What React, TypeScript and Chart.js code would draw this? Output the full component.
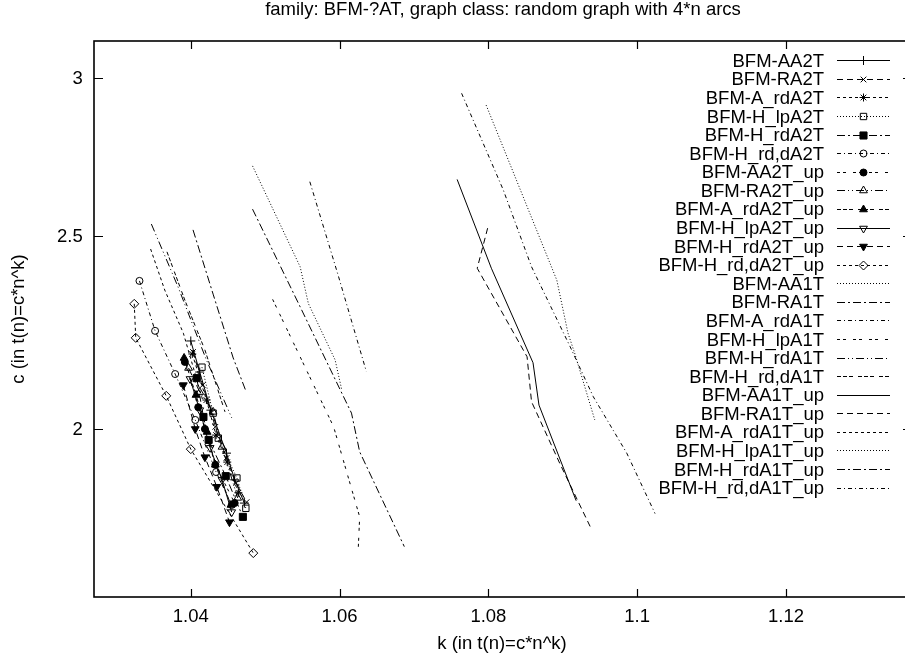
import React, { useEffect, useRef } from "react";
import { Chart, registerables } from "chart.js";
import { drawPoint } from "chart.js/helpers";

Chart.register(...registerables);

const TITLE = "family: BFM-?AT, graph class: random graph with 4*n arcs";
const X_TITLE = "k (in t(n)=c*n^k)";
const Y_TITLE = "c (in t(n)=c*n^k)";

const xTicks = [1.04, 1.06, 1.08, 1.1, 1.12];
const xTickLabels = ["1.04", "1.06", "1.08", "1.1", "1.12"];
const yTicks = [2, 2.5, 3];
const yTickLabels = ["2", "2.5", "3"];
const kRange = [1.02699, 1.13694];
const cRange = [1.6473, 3.1305];

const labels = [
  "BFM-AA2T", "BFM-RA2T", "BFM-A_rdA2T", "BFM-H_lpA2T", "BFM-H_rdA2T", "BFM-H_rd,dA2T",
  "BFM-AA2T_up", "BFM-RA2T_up", "BFM-A_rdA2T_up", "BFM-H_lpA2T_up", "BFM-H_rdA2T_up", "BFM-H_rd,dA2T_up",
  "BFM-AA1T", "BFM-RA1T", "BFM-A_rdA1T", "BFM-H_lpA1T", "BFM-H_rdA1T", "BFM-H_rd,dA1T",
  "BFM-AA1T_up", "BFM-RA1T_up", "BFM-A_rdA1T_up", "BFM-H_lpA1T_up", "BFM-H_rdA1T_up", "BFM-H_rd,dA1T_up",
];

const k_AA2T = [1.0400, 1.0412, 1.0427, 1.0448, 1.0459, 1.0472];
const c_AA2T = [2.214, 2.136, 2.044, 1.945, 1.886, 1.836];
const k_RA2T = [1.0403, 1.0416, 1.0433, 1.0448, 1.0461, 1.0475];
const c_RA2T = [2.186, 2.104, 2.005, 1.934, 1.879, 1.838];
const k_A_rdA2T = [1.0402, 1.0421, 1.0434, 1.0449, 1.0464];
const c_A_rdA2T = [2.181, 2.068, 1.986, 1.925, 1.858];
const k_H_lpA2T = [1.0415, 1.0430, 1.0437, 1.0462, 1.0474];
const c_H_lpA2T = [2.148, 2.037, 1.979, 1.890, 1.825];
const k_H_rdA2T = [1.0408, 1.0417, 1.0424, 1.0447, 1.0470];
const c_H_rdA2T = [2.121, 2.028, 1.975, 1.894, 1.807];
const k_H_rddA2T = [1.0331, 1.0352, 1.0379, 1.0406, 1.0434, 1.0455];
const c_H_rddA2T = [2.373, 2.240, 2.131, 2.021, 1.903, 1.832];
const k_AA2T_up = [1.0392, 1.0410, 1.0419, 1.0433, 1.0459];
const c_AA2T_up = [2.161, 2.051, 2.000, 1.919, 1.836];
const k_RA2T_up = [1.0397, 1.0412, 1.0430, 1.0442, 1.0463];
const c_RA2T_up = [2.146, 2.087, 2.040, 1.959, 1.847];
const k_A_rdA2T_up = [1.0391, 1.0407, 1.0422, 1.0433, 1.0454];
const c_A_rdA2T_up = [2.171, 2.080, 1.993, 1.919, 1.832];
const k_H_lpA2T_up = [1.0399, 1.0412, 1.0426, 1.0442, 1.0455];
const c_H_lpA2T_up = [2.119, 2.044, 1.957, 1.886, 1.817];
const k_H_rdA2T_up = [1.0390, 1.0406, 1.0419, 1.0435, 1.0452];
const c_H_rdA2T_up = [2.104, 2.000, 1.936, 1.871, 1.796];
const k_H_rddA2T_up = [1.0324, 1.0326, 1.0367, 1.0400, 1.0484];
const c_H_rddA2T_up = [2.311, 2.222, 2.078, 1.954, 1.733];

const k_AA1T = [1.0483, 1.0547, 1.0558, 1.0594, 1.0603];
const c_AA1T = [2.710, 2.412, 2.312, 2.166, 2.092];
const k_RA1T = [1.0483, 1.0547, 1.0601, 1.0616, 1.0627, 1.0687];
const c_RA1T = [2.578, 2.303, 2.092, 2.037, 1.948, 1.746];
const k_A_rdA1T = [1.0560, 1.0598, 1.0636];
const c_A_rdA1T = [2.661, 2.389, 2.137];
const k_H_lpA1T = [1.0510, 1.0592, 1.0627, 1.0625];
const c_H_lpA1T = [2.323, 2.005, 1.807, 1.739];
const k_H_rdA1T = [1.0347, 1.0383, 1.0421, 1.0455];
const c_H_rdA1T = [2.534, 2.356, 2.166, 2.026];
const k_H_rddA1T = [1.0368, 1.0392, 1.0419, 1.0446];
const c_H_rddA1T = [2.454, 2.321, 2.191, 2.040];
const k_AA1T_up = [1.0758, 1.0804, 1.0860, 1.0868, 1.0918];
const c_AA1T_up = [2.668, 2.408, 2.159, 2.056, 1.841];
const k_RA1T_up = [1.0799, 1.0785, 1.0852, 1.0858, 1.0896, 1.0939];
const c_RA1T_up = [2.522, 2.408, 2.174, 2.064, 1.922, 1.780];
const k_A_rdA1T_up = [1.0346, 1.0365, 1.0390, 1.0416];
const c_A_rdA1T_up = [2.462, 2.348, 2.234, 2.068];
const k_H_lpA1T_up = [1.0797, 1.0843, 1.0892, 1.0907, 1.0916, 1.0943];
const c_H_lpA1T_up = [2.907, 2.636, 2.375, 2.234, 2.183, 2.021];
const k_H_rdA1T_up = [1.0403, 1.0430, 1.0457, 1.0474];
const c_H_rdA1T_up = [2.517, 2.337, 2.171, 2.090];
const k_H_rddA1T_up = [1.0764, 1.0820, 1.0858, 1.0910, 1.0941, 1.0986, 1.1024];
const c_H_rddA1T_up = [2.947, 2.636, 2.412, 2.199, 2.076, 1.945, 1.814];

const seriesK = [
  k_AA2T, k_RA2T, k_A_rdA2T, k_H_lpA2T, k_H_rdA2T, k_H_rddA2T,
  k_AA2T_up, k_RA2T_up, k_A_rdA2T_up, k_H_lpA2T_up, k_H_rdA2T_up, k_H_rddA2T_up,
  k_AA1T, k_RA1T, k_A_rdA1T, k_H_lpA1T, k_H_rdA1T, k_H_rddA1T,
  k_AA1T_up, k_RA1T_up, k_A_rdA1T_up, k_H_lpA1T_up, k_H_rdA1T_up, k_H_rddA1T_up,
];
const seriesC = [
  c_AA2T, c_RA2T, c_A_rdA2T, c_H_lpA2T, c_H_rdA2T, c_H_rddA2T,
  c_AA2T_up, c_RA2T_up, c_A_rdA2T_up, c_H_lpA2T_up, c_H_rdA2T_up, c_H_rddA2T_up,
  c_AA1T, c_RA1T, c_A_rdA1T, c_H_lpA1T, c_H_rdA1T, c_H_rddA1T,
  c_AA1T_up, c_RA1T_up, c_A_rdA1T_up, c_H_lpA1T_up, c_H_rdA1T_up, c_H_rddA1T_up,
];

const DASHES = [[], [6, 4], [3, 3], [1, 2], [8, 3, 2, 3], [4, 3, 1, 3], [3, 3, 3, 7], [8, 3, 1, 3, 1, 3], [4, 2, 4, 2, 4, 5]];
const POINT_STYLES = ["cross", "crossRot", "star", "rect", "rect", "circle", "circle", "triangle", "triangle", "triangle", "triangle", "rectRot"];
const POINT_FILLED = [false, false, false, false, true, false, true, false, true, false, true, false];
const POINT_ROT = [0, 0, 0, 0, 0, 0, 0, 0, 0, 180, 180, 0];
const POINT_RADIUS = [4.5, 4, 4, 4.5, 5, 3.5, 3.5, 4.5, 4.5, 4.5, 4.5, 4.5];

const FONT = '18.5px "Liberation Sans", Arial, sans-serif';
const CANVAS_W = 912;
const CANVAS_H = 657;

const gnuplotDecor = {
  id: "gnuplotDecor",
  afterDraw(chart: any) {
    const { ctx, chartArea: a, scales } = chart;
    const xs = scales.x;
    const ys = scales.y;
    ctx.save();
    ctx.strokeStyle = "#000";
    ctx.fillStyle = "#000";
    ctx.setLineDash([]);
    ctx.lineWidth = 1.6;
    ctx.strokeRect(a.left, a.top, a.right - a.left, a.bottom - a.top);
    ctx.lineWidth = 1.2;
    ctx.beginPath();
    xTicks.forEach((v) => {
      const px = Math.round(xs.getPixelForValue(v)) + 0.5;
      ctx.moveTo(px, a.bottom);
      ctx.lineTo(px, a.bottom - 8);
      ctx.moveTo(px, a.top);
      ctx.lineTo(px, a.top + 8);
    });
    yTicks.forEach((v) => {
      const py = Math.round(ys.getPixelForValue(v)) + 0.5;
      ctx.moveTo(a.left, py);
      ctx.lineTo(a.left + 9, py);
      ctx.moveTo(a.right, py);
      ctx.lineTo(a.right - 9, py);
    });
    ctx.stroke();
    ctx.font = FONT;
    ctx.textBaseline = "alphabetic";
    ctx.textAlign = "center";
    xTicks.forEach((v, i) => ctx.fillText(xTickLabels[i], xs.getPixelForValue(v), a.bottom + 24.7));
    ctx.textAlign = "right";
    yTicks.forEach((v, i) => ctx.fillText(yTickLabels[i], a.left - 11.3, ys.getPixelForValue(v) + 6.5));
    const cx = (a.left + a.right) / 2;
    ctx.textAlign = "center";
    ctx.fillText(TITLE, cx, 15);
    ctx.fillText(X_TITLE, cx - 1, a.bottom + 52);
    ctx.save();
    ctx.translate(23.5, (a.top + a.bottom) / 2);
    ctx.rotate(-Math.PI / 2);
    ctx.fillText(Y_TITLE, 0, 0);
    ctx.restore();
    const rowTop = a.top + 19.3;
    const rowStep = 18.58;
    chart.data.datasets.forEach((ds: any, i: number) => {
      const yc = rowTop + i * rowStep;
      const yl = Math.round(yc) + 0.5;
      ctx.fillStyle = "#000";
      ctx.textAlign = "right";
      ctx.fillText(ds.label, a.right - 88, yc + 6.5);
      ctx.lineWidth = 1;
      ctx.setLineDash(ds.borderDash || []);
      ctx.beginPath();
      ctx.moveTo(a.right - 75, yl);
      ctx.lineTo(a.right - 22, yl);
      ctx.stroke();
      ctx.setLineDash([]);
      if (ds.pointRadius > 0) {
        ctx.fillStyle = ds.pointBackgroundColor;
        ctx.strokeStyle = "#000";
        drawPoint(ctx, { pointStyle: ds.pointStyle, rotation: ds.pointRotation, radius: ds.pointRadius, borderWidth: 1 } as any, a.right - 48.5, yl);
      }
    });
    ctx.restore();
  },
};

export default function App() {
  const ref = useRef<HTMLCanvasElement>(null);
  useEffect(() => {
    document.documentElement.style.overflow = "hidden";
    document.body.style.margin = "0";
    document.body.style.overflow = "hidden";
    const datasets = labels.map((label, i) => {
      const marked = i < 12;
      return {
        label,
        data: seriesK[i].map((k, j) => ({ x: k, y: seriesC[i][j] })),
        borderColor: "#000",
        borderWidth: 1,
        borderDash: DASHES[i % 9],
        tension: 0,
        fill: false,
        pointStyle: marked ? POINT_STYLES[i] : "circle",
        pointRadius: marked ? POINT_RADIUS[i] : 0,
        pointHoverRadius: marked ? POINT_RADIUS[i] : 0,
        pointRotation: marked ? POINT_ROT[i] : 0,
        pointBorderColor: "#000",
        pointBorderWidth: 1,
        pointBackgroundColor: marked && POINT_FILLED[i] ? "#000" : "rgba(0,0,0,0)",
      };
    });
    const chart = new Chart(ref.current as HTMLCanvasElement, {
      type: "line",
      data: { datasets },
      options: {
        responsive: false,
        maintainAspectRatio: false,
        animation: false,
        devicePixelRatio: 1,
        events: [],
        layout: { autoPadding: false, padding: { top: 41, left: 0, right: 0, bottom: 0 } },
        plugins: { legend: { display: false }, title: { display: false }, tooltip: { enabled: false } },
        scales: {
          x: {
            type: "linear",
            bounds: "data",
            min: kRange[0],
            max: kRange[1],
            afterBuildTicks: (s: any) => { s.ticks = xTicks.map((v) => ({ value: v })); },
            afterFit: (s: any) => { s.height = 60; },
            ticks: { display: false },
            grid: { display: false },
            border: { display: false },
          },
          y: {
            type: "logarithmic",
            bounds: "data",
            min: cRange[0],
            max: cRange[1],
            afterBuildTicks: (s: any) => { s.ticks = yTicks.map((v) => ({ value: v })); },
            afterFit: (s: any) => { s.width = 94; },
            ticks: { display: false },
            grid: { display: false },
            border: { display: false },
          },
        },
      } as any,
      plugins: [gnuplotDecor],
    });
    return () => chart.destroy();
  }, []);
  return (
    <div style={{ width: CANVAS_W, height: CANVAS_H, position: "relative", background: "#fff" }}>
      <canvas ref={ref} width={CANVAS_W} height={CANVAS_H} style={{ display: "block", width: CANVAS_W, height: CANVAS_H }} />
    </div>
  );
}
